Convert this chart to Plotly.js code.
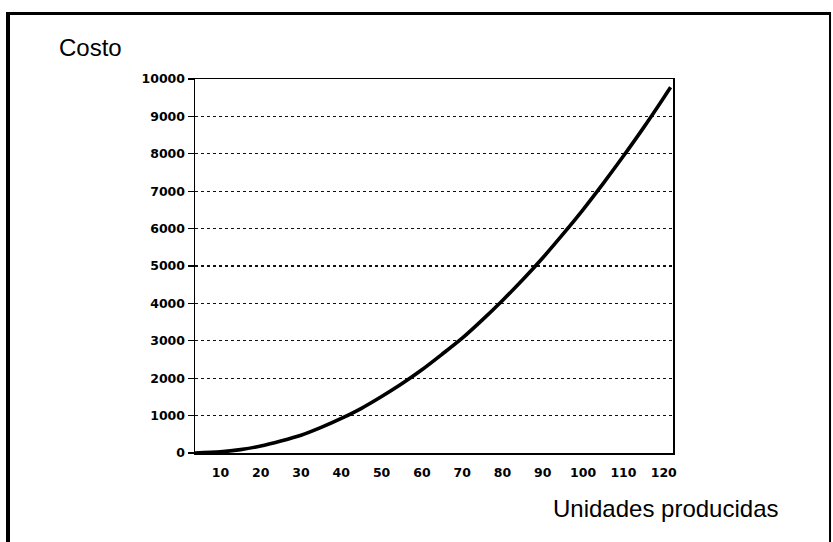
<!DOCTYPE html>
<html>
<head>
<meta charset="utf-8">
<script src="https://cdn.plot.ly/plotly-3.0.1.min.js"></script>
<style>
  html, body { margin: 0; padding: 0; background: #fff; }
  #chart { width: 833px; height: 542px; }
</style>
</head>
<body>
<div id="chart"></div>
<script>
// Units produced (x) and cost (y)
const unidades = [3.7, 10, 15, 20, 25, 30, 35, 40, 45, 50, 55, 60, 65, 70, 75, 80, 85, 90, 95, 100, 105, 110, 115, 120, 121.7];
const costo    = [0, 30, 90, 185, 320, 475, 685, 925, 1195, 1510, 1850, 2225, 2640, 3070, 3560, 4080, 4630, 5220, 5850, 6510, 7210, 7940, 8700, 9500, 9780];

const xTicks = [10, 20, 30, 40, 50, 60, 70, 80, 90, 100, 110, 120];
const yTicks = [0, 1000, 2000, 3000, 4000, 5000, 6000, 7000, 8000, 9000, 10000];

const yTitle = 'Costo';
const xTitle = 'Unidades producidas';

const tickFont = { family: 'DejaVu Sans, Arial, sans-serif', size: 12.5, color: '#000', weight: 'bold' };
const titleFont = { family: 'Liberation Sans, Arial, sans-serif', size: 24, color: '#000' };

const trace = {
  x: unidades,
  y: costo,
  type: 'scatter',
  mode: 'lines',
  line: { color: '#000', width: 3.6, shape: 'spline', smoothing: 0.8 },
  hoverinfo: 'skip',
  showlegend: false
};

const layout = {
  width: 833,
  height: 542,
  margin: { l: 195, r: 160, t: 79, b: 89 },
  paper_bgcolor: '#fff',
  plot_bgcolor: '#fff',
  showlegend: false,
  xaxis: {
    range: [3.7, 122.3],
    tickmode: 'array',
    tickvals: xTicks,
    ticktext: xTicks.map(String),
    showgrid: false,
    zeroline: false,
    showline: true,
    linecolor: '#000',
    linewidth: 1.5,
    mirror: true,
    ticks: 'outside',
    ticklen: 7,
    tickcolor: 'rgba(0,0,0,0)',
    tickfont: tickFont
  },
  yaxis: {
    range: [0, 10000],
    tickmode: 'array',
    tickvals: yTicks,
    ticktext: yTicks.map(String),
    showgrid: true,
    gridcolor: '#111',
    griddash: 'dot',
    gridwidth: 1.2,
    zeroline: false,
    showline: true,
    linecolor: '#000',
    linewidth: 1.5,
    mirror: true,
    ticks: 'outside',
    ticklen: 6,
    tickwidth: 1.2,
    tickcolor: '#000',
    tickfont: tickFont
  },
  annotations: [
    { text: yTitle, xref: 'paper', yref: 'paper', x: -0.2886, y: 1.0829,
      xanchor: 'left', yanchor: 'middle', showarrow: false, font: titleFont },
    { text: xTitle, xref: 'paper', yref: 'paper', x: 0.7448, y: -0.1497,
      xanchor: 'left', yanchor: 'middle', showarrow: false, font: titleFont }
  ],
  shapes: [
    { type: 'line', xref: 'paper', yref: 'paper', x0: -0.3912, x1: -0.3912, y0: 1.179, y1: -0.26,
      line: { color: '#000', width: 4 } },
    { type: 'line', xref: 'paper', yref: 'paper', x0: -0.395, x1: 1.3295, y0: 1.1751, y1: 1.1751,
      line: { color: '#000', width: 3 } },
    { type: 'line', xref: 'paper', yref: 'paper', x0: 1.3285, x1: 1.3285, y0: 1.179, y1: -0.26,
      line: { color: '#000', width: 2 } }
  ]
};

Plotly.newPlot('chart', [trace], layout, { staticPlot: true, displayModeBar: false });
</script>
</body>
</html>
